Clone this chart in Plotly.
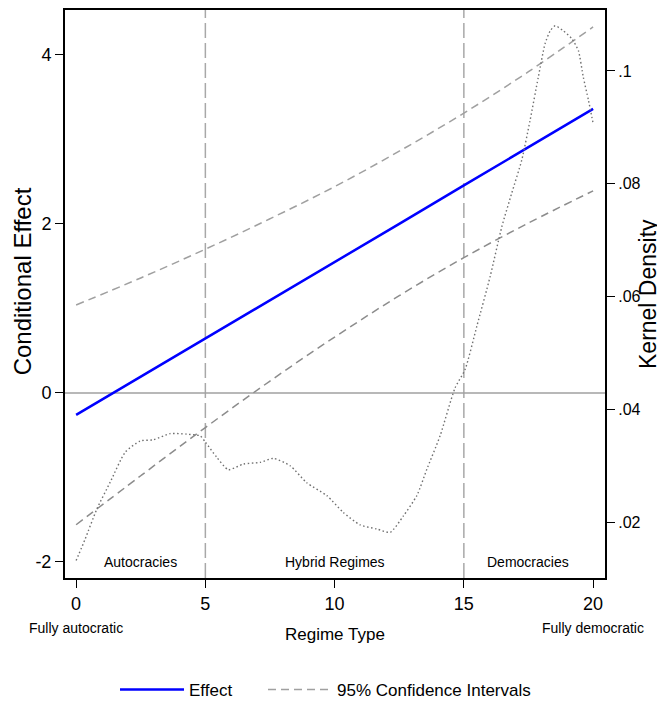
import plotly.graph_objects as go

# Data
ci_x = [0, 2.5, 5, 7.5, 10, 12.5, 15, 17.5, 20]
effect = [-0.26, 0.19, 0.645, 1.10, 1.55, 2.00, 2.455, 2.91, 3.36]
ci_upper = [1.04, 1.36, 1.70, 2.06, 2.44, 2.86, 3.31, 3.80, 4.33]
ci_lower = [-1.56, -0.98, -0.41, 0.14, 0.66, 1.15, 1.60, 2.01, 2.39]

dens_x = [0.0, 0.35, 0.8, 1.32, 1.9, 2.48, 2.99, 3.64, 4.28, 4.8, 5.0, 5.44, 5.89, 6.47,
          7.12, 7.63, 8.28, 8.92, 9.7, 10.34, 10.99, 11.63, 12.15, 12.66, 13.18, 13.57,
          14.08, 14.66, 15.05, 15.5, 16.02, 16.47, 16.85, 17.24, 17.56, 17.88, 18.14,
          18.34, 18.53, 18.85, 19.18, 19.43, 19.62, 19.82, 20.0]
dens_y = [0.0132, 0.0170, 0.0223, 0.0271, 0.0324, 0.0344, 0.0346, 0.0357, 0.0356, 0.0353,
          0.0342, 0.0315, 0.0293, 0.0303, 0.0306, 0.0313, 0.0300, 0.0270, 0.0247, 0.0217,
          0.0195, 0.0188, 0.0182, 0.0211, 0.0247, 0.0294, 0.0353, 0.0438, 0.0471, 0.0547,
          0.0636, 0.0724, 0.0783, 0.0842, 0.0912, 0.0989, 0.1048, 0.1071, 0.1080, 0.1071,
          0.1057, 0.1036, 0.0989, 0.0948, 0.0907]

x_ticks = [0, 5, 10, 15, 20]
y_ticks = [-2, 0, 2, 4]
y_ticktext = ["-2", "0", "2", "4"]
y2_ticks = [0.02, 0.04, 0.06, 0.08, 0.1]
y2_ticktext = [".02", ".04", ".06", ".08", ".1"]
regime_cut = [5, 15]
regions = ["Autocracies", "Hybrid Regimes", "Democracies"]
region_x = [2.5, 10, 17.5]

FONT = "Liberation Sans, Arial, sans-serif"

fig = go.Figure()

# density (right axis)
fig.add_trace(go.Scatter(x=dens_x, y=dens_y, yaxis="y2", mode="lines",
                         line=dict(color="#707070", width=1.4, dash="1.5px,2.5px", shape="spline", smoothing=0.6),
                         showlegend=False, hoverinfo="skip"))

fig.add_trace(go.Scatter(x=ci_x, y=effect, mode="lines", name="Effect", legend="legend",
                         line=dict(color="#0000ff", width=2.5)))
fig.add_trace(go.Scatter(x=ci_x, y=ci_upper, mode="lines", name="95% Confidence Intervals",
                         legend="legend2",
                         line=dict(color="#a0a0a0", width=1.5, dash="8px,5px", shape="spline")))
fig.add_trace(go.Scatter(x=ci_x, y=ci_lower, mode="lines", showlegend=False,
                         line=dict(color="#8c8c8c", width=1.5, dash="8px,5px", shape="spline")))

shapes = []
for c in regime_cut:
    shapes.append(dict(type="line", xref="x", yref="paper", x0=c, x1=c, y0=0, y1=1,
                       line=dict(color="#a8a8a8", width=1.5, dash="15px,5px"), layer="below"))
shapes.append(dict(type="line", xref="paper", yref="y", x0=0, x1=1, y0=0, y1=0,
                   line=dict(color="#a0a0a0", width=1.5), layer="below"))

annotations = []
for name, rx in zip(regions, region_x):
    annotations.append(dict(x=rx, y=-2, xref="x", yref="y", text=name, showarrow=False,
                            font=dict(family=FONT, size=14, color="black"),
                            xanchor="center", yanchor="middle"))
annotations += [
    dict(x=0, y=-0.088, xref="x", yref="paper", text="Fully autocratic", showarrow=False,
         font=dict(family=FONT, size=14, color="black"), xanchor="center", yanchor="middle"),
    dict(x=20, y=-0.088, xref="x", yref="paper", text="Fully democratic", showarrow=False,
         font=dict(family=FONT, size=14, color="black"), xanchor="center", yanchor="middle"),
    dict(x=0.5, y=-0.099, xref="paper", yref="paper", text="Regime Type", showarrow=False,
         font=dict(family=FONT, size=17, color="black"), xanchor="center", yanchor="middle"),
    dict(x=-0.077, y=0.523, xref="paper", yref="paper", text="Conditional Effect", showarrow=False,
         textangle=-90, font=dict(family=FONT, size=24, color="black"), xanchor="center", yanchor="middle"),
    dict(x=(648 - 65) / 540, y=0.5, xref="paper", yref="paper", text="Kernel Density", showarrow=False,
         textangle=-90, font=dict(family=FONT, size=23, color="black"), xanchor="center", yanchor="middle"),
]

legend_common = dict(orientation="h", y=-0.197, xanchor="left", yanchor="middle", itemwidth=64,
                     font=dict(family=FONT, size=17, color="black"), bgcolor="rgba(0,0,0,0)")

fig.update_layout(
    width=657, height=694,
    margin=dict(l=57, r=60, t=2, b=124, autoexpand=False),
    paper_bgcolor="white", plot_bgcolor="white",
    shapes=shapes, annotations=annotations,
    xaxis=dict(range=[-0.43, 20.46], tickvals=x_ticks, ticks="outside", ticklen=8,
               tickcolor="black", showgrid=False, zeroline=False, showline=True,
               linecolor="black", linewidth=2, mirror=True, automargin=False,
               tickfont=dict(family=FONT, size=18, color="black")),
    yaxis=dict(range=[-2.19, 4.53], tickvals=y_ticks, ticktext=y_ticktext, ticks="outside",
               ticklen=8, tickcolor="black", showgrid=False, zeroline=False, showline=True,
               linecolor="black", linewidth=2, mirror=True, automargin=False,
               tickfont=dict(family=FONT, size=18, color="black")),
    yaxis2=dict(range=[0.0101, 0.1108], overlaying="y", side="right", tickvals=y2_ticks,
                ticktext=y2_ticktext, ticks="outside", ticklen=8, tickcolor="black",
                showgrid=False, zeroline=False, showline=True, linecolor="black", linewidth=2,
                automargin=False, tickfont=dict(family=FONT, size=16, color="black")),
    legend=dict(x=(115 - 65) / 540, **legend_common),
    legend2=dict(x=(263 - 65) / 540, **legend_common),
    showlegend=True,
)

fig.write_html("out.html")
